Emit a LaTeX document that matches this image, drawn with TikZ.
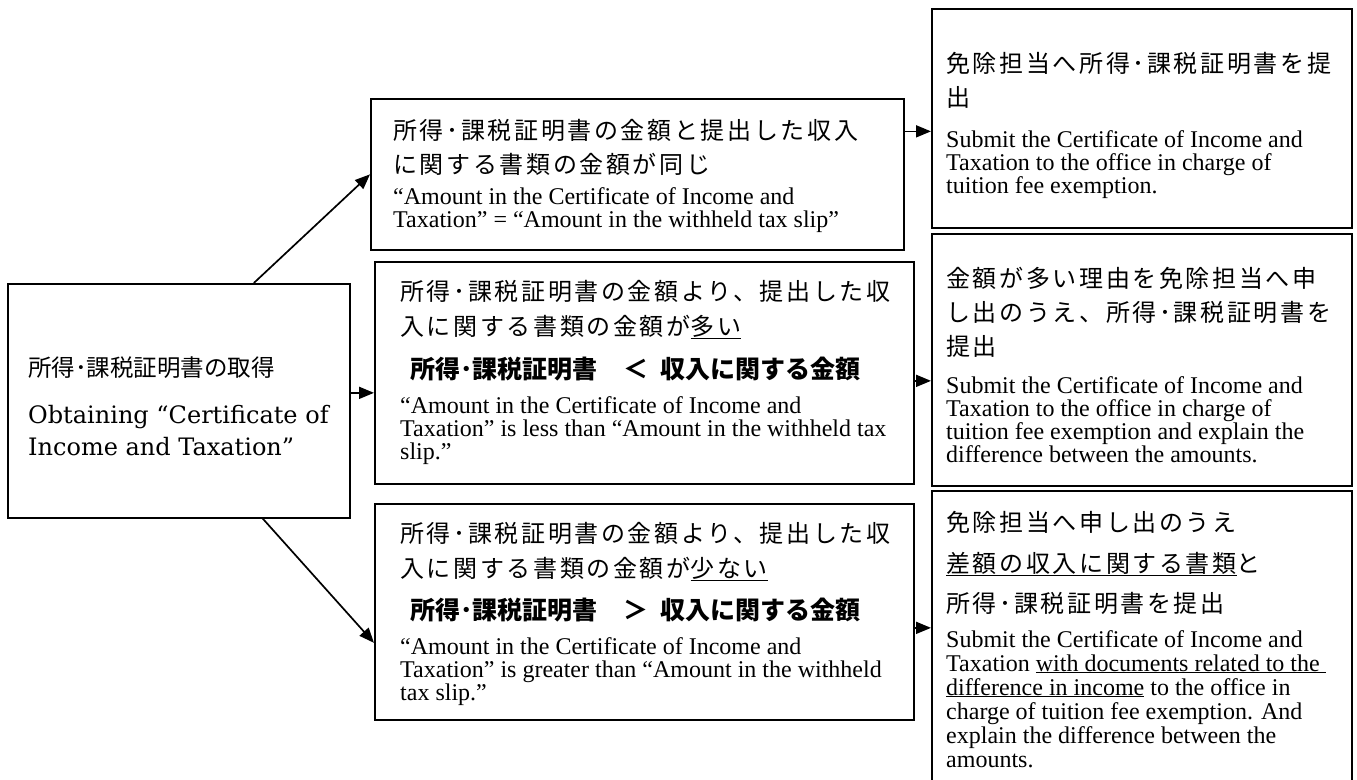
\documentclass[tikz,border=0pt]{standalone}
\usepackage{fontspec}
\setmainfont{Liberation Serif}
\newfontfamily\jp[LetterSpace=11]{Noto Sans CJK JP}
\newfontfamily\jpn{Noto Sans CJK JP}
\newfontfamily\dvs{DejaVu Serif}
\usetikzlibrary{arrows.meta}
\tikzset{
  box/.style={draw, line width=1.7pt, inner sep=0pt, anchor=north west},
  jpt/.style={anchor=base west, inner sep=0pt, font=\jp\fontsize{24}{28}\selectfont},
  jpbold/.style={anchor=base west, inner sep=0pt, font=\jpn\bfseries\fontsize{25}{28}\selectfont},
  ent/.style={anchor=base west, inner sep=0pt, font=\fontsize{24}{24}\selectfont},
  arr/.style={line width=1.7pt, -{Triangle[length=15pt,width=12pt]}},
}
\begin{document}
\begin{tikzpicture}[x=1pt,y=-1pt]
\useasboundingbox (0,0) rectangle (1357,779);
\fill[white] (0,0) rectangle (1357,779);
\clip (0,0) rectangle (1357,779);

% ---- boxes
\node[box, minimum width=342pt, minimum height=234pt] (L) at (7,283) {};
\node[box, minimum width=533pt, minimum height=151pt] (B1) at (370,98) {};
\node[box, minimum width=539pt, minimum height=222pt] (B2) at (374,261) {};
\node[box, minimum width=539pt, minimum height=216pt] (B3) at (374,503) {};
\node[box, minimum width=420pt, minimum height=219pt] (R1) at (931,8) {};
\node[box, minimum width=420pt, minimum height=252pt] (R2) at (931,233) {};
\node[box, minimum width=420pt, minimum height=320pt] (R3) at (931,490) {};

% ---- left box
\node[anchor=base west, inner sep=0pt, font=\jpn\fontsize{23.5}{28}\selectfont] (L1) at (28,376) {所得･課税証明書の取得};
\node[anchor=base west, inner sep=0pt, font=\dvs\fontsize{24}{28}\selectfont] (L2) at (28,423) {Obtaining “Certificate of};
\node[anchor=base west, inner sep=0pt, font=\dvs\fontsize{24}{28}\selectfont] (L3) at (28,455) {Income and Taxation”};

% ---- box 1
\node[jpt] (B1j1) at (393,139) {所得･課税証明書の金額と提出した収入};
\node[jpt] (B1j2) at (393,173) {に関する書類の金額が同じ};
\node[ent] (B1e1) at (393,204) {“Amount in the Certificate of Income and};
\node[ent] (B1e2) at (393,227) {Taxation” = “Amount in the withheld tax slip”};

% ---- box 2
\node[jpt] (B2j1) at (400,300) {所得･課税証明書の金額より、提出した収};
\node[jpt] (B2j2) at (400,335) {入に関する書類の金額が\underline{多い}};
\node[jpbold] (B2b) at (410,378) {所得･課税証明書\hspace{26pt}＜\hspace{12pt}収入に関する金額};
\node[ent] (B2e1) at (400,413) {“Amount in the Certificate of Income and};
\node[ent] (B2e2) at (400,436) {Taxation” is less than “Amount in the withheld tax};
\node[ent] (B2e3) at (400,459) {slip.”};

% ---- box 3
\node[jpt] (B3j1) at (400,542) {所得･課税証明書の金額より、提出した収};
\node[jpt] (B3j2) at (400,577) {入に関する書類の金額が\underline{少ない}};
\node[jpbold] (B3b) at (410,619) {所得･課税証明書\hspace{26pt}＞\hspace{12pt}収入に関する金額};
\node[ent] (B3e1) at (400,654) {“Amount in the Certificate of Income and};
\node[ent] (B3e2) at (400,677) {Taxation” is greater than “Amount in the withheld};
\node[ent] (B3e3) at (400,700) {tax slip.”};

% ---- right box 1
\node[jpt] (R1j1) at (946,72) {免除担当へ所得･課税証明書を提};
\node[jpt] (R1j2) at (946,106) {出};
\node[ent] (R1e1) at (946,147) {Submit the Certificate of Income and};
\node[ent] (R1e2) at (946,170) {Taxation to the office in charge of};
\node[ent] (R1e3) at (946,193) {tuition fee exemption.};

% ---- right box 2
\node[jpt] (R2j1) at (946,287) {金額が多い理由を免除担当へ申};
\node[jpt] (R2j2) at (946,321) {し出のうえ、所得･課税証明書を};
\node[jpt] (R2j3) at (946,355) {提出};
\node[ent] (R2e1) at (946,393) {Submit the Certificate of Income and};
\node[ent] (R2e2) at (946,416) {Taxation to the office in charge of};
\node[ent] (R2e3) at (946,439) {tuition fee exemption and explain the};
\node[ent] (R2e4) at (946,462) {difference between the amounts.};

% ---- right box 3
\node[jpt] (R3j1) at (946,531) {免除担当へ申し出のうえ};
\node[jpt] (R3j2) at (946,572) {\underline{差額の収入に関する書類}と};
\node[jpt] (R3j3) at (946,612) {所得･課税証明書を提出};
\node[ent] (R3e1) at (946,647) {Submit the Certificate of Income and};
\node[ent] (R3e2) at (946,671) {Taxation \underline{with documents related to the\ }};
\node[ent] (R3e3) at (946,695) {\underline{difference in income} to the office in};
\node[ent] (R3e4) at (946,719) {charge of tuition fee exemption. And};
\node[ent] (R3e5) at (946,743) {explain the difference between the};
\node[ent] (R3e6) at (946,767) {amounts.};

% ---- connectors
\coordinate (a1s) at ([xshift=75pt]L.north);
\draw[arr] (a1s) -- (B1.west);
\coordinate (a2s) at ([yshift=8pt]L.east);
\draw[arr] (a2s) -- (a2s -| B2.west);
\coordinate (a3s) at ([xshift=84pt]L.south);
\coordinate (a3e) at ([yshift=-31pt]B3.west);
\draw[arr] (a3s) -- (a3e);
\coordinate (a4s) at ([yshift=43pt]B1.east);
\draw[arr] (a4s) -- (a4s -| R1.west);
\coordinate (a5s) at ([yshift=-8pt]B2.east);
\draw[arr] (a5s) -- (a5s -| R2.west);
\coordinate (a6s) at ([yshift=-16pt]B3.east);
\draw[arr] (a6s) -- (a6s -| R3.west);
\end{tikzpicture}
\end{document}
